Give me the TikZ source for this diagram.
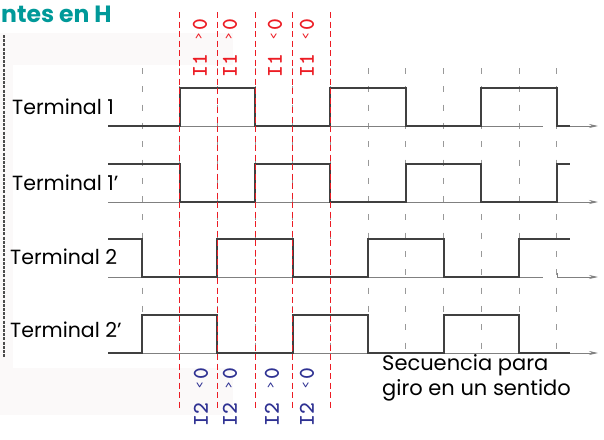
\documentclass[tikz,border=0pt]{standalone}
\usepackage{fontspec}
\setmainfont{Poppins}
\newfontfamily\labelfont{lmmonolt10-bold.otf}
\usetikzlibrary{arrows.meta}
\usetikzlibrary{positioning}

\definecolor{titleteal}{RGB}{0,153,153}
\definecolor{currentred}{RGB}{236,28,36}
\definecolor{currentblue}{RGB}{46,49,146}
\definecolor{scanpaper}{RGB}{251,249,249}

% small comparison sign kept in the middle of a mono cell
\newcommand\relsym[1]{\makebox[0.525em]{\raisebox{0.2em}{\fontsize{12}{12}\selectfont #1}}}

\tikzset{
  % square wave of one terminal
  signal/.style = {
    draw = black!75,
    line width = 1.6pt,
    line join = miter
  },
  % thin time axis under each wave
  time axis/.style = {
    draw = black!50,
    line width = 0.8pt
  },
  time arrow/.style = {
    time axis,
    -{Stealth[length=9pt,width=4pt]}
  },
  % grey dashes every half period
  tick line/.style = {
    draw = black!40,
    line width = 0.9pt,
    dash pattern = on 6pt off 12.3pt
  },
  % red dashed instants where the currents switch
  change line/.style = {
    draw = currentred,
    line width = 1.1pt,
    dash pattern = on 6pt off 3.5pt
  }
}
\tikzset {
  terminal label/.style = {
    anchor = west,
    inner sep = 0,
    font = \fontsize{20.5}{20.5}\selectfont
  },
  % rotated current conditions
  current label/.style = {
    rotate = 90,
    inner sep = 0,
    font = \labelfont\fontsize{22.5}{22.5}\selectfont
  }
}

\begin{document}
\begin{tikzpicture}[x = 1pt, y = -1pt]
  \useasboundingbox (0,0) rectangle (604,439);
  \fill[scanpaper] (0,33) rectangle (233,415);
  \fill[white] (13,65) rectangle (604,368);

  \node[anchor = base west, text = titleteal, inner sep = 0,
    font = \bfseries\fontsize{23.5}{23.5}\selectfont] (title) at (1,22) {ntes en H};
  \draw[black!70, line width = 2.2pt, dash pattern = on 3pt off 1.2pt] (4,35) -- (4,358);

  % half period grid
  \foreach \k in {0,...,11}
    \draw[tick line] (142+37.7*\k,68) -- (142+37.7*\k,360);

  % time axes
  \draw[time axis] (108,126) -- (543,126);
  \draw[time arrow] (557,126) -- (598,126);
  \draw[time arrow] (108,202) -- (598,202);
  \draw[time axis] (108,277) -- (543,277);
  \draw[time arrow] (557,273) -- (557,277) -- (598,277);
  \draw[time arrow] (108,353) -- (598,353);

  % terminal 1
  \draw[signal] (108,126) -- (180,126) -- (180,88) -- (255,88) -- (255,126)
    -- (330,126) -- (330,88) -- (406,88) -- (406,126) -- (481,126)
    -- (481,88) -- (557,88) -- (557,126) -- (570,126);
  % terminal 1'
  \draw[signal] (108,164) -- (180,164) -- (180,202) -- (255,202) -- (255,164)
    -- (330,164) -- (330,202) -- (406,202) -- (406,164) -- (481,164)
    -- (481,202) -- (557,202) -- (557,164) -- (570,164);
  % terminal 2
  \draw[signal] (108,239) -- (142,239) -- (142,277) -- (217,277) -- (217,239)
    -- (293,239) -- (293,277) -- (368,277) -- (368,239) -- (444,239)
    -- (444,277) -- (519,277) -- (519,239) -- (570,239);
  % terminal 2'
  \draw[signal] (108,353) -- (142,353) -- (142,315) -- (217,315) -- (217,353)
    -- (293,353) -- (293,315) -- (368,315) -- (368,353) -- (444,353)
    -- (444,315) -- (519,315) -- (519,353) -- (570,353);

  \foreach \k in {1,...,5}
    \draw[change line] (142+37.7*\k,12) -- (142+37.7*\k,410);

  \node[terminal label] (t1) at (12,107) {Terminal 1};
  \node[terminal label] (t1p) at (12,183) {Terminal 1’};
  \node[terminal label] (t2) at (10,257) {Terminal 2};
  \node[terminal label] (t2p) at (10,330) {Terminal 2’};

  \foreach \x/\txt [count=\i] in {200/I1 \relsym{>}0, 230/I1 \relsym{>}0,
      275/I1 \relsym{<}0, 307/I1 \relsym{<}0}
    \node[current label, text = currentred] (i1-\i) at (\x,48) {\txt};
  \foreach \x/\txt [count=\i] in {201/I2 \relsym{<}0, 230/I2 \relsym{>}0,
      272/I2 \relsym{>}0, 307/I2 \relsym{<}0}
    \node[current label, text = currentblue] (i2-\i) at (\x,397) {\txt};

  \node[anchor = base west, align = left, inner sep = 0,
    font = \fontsize{21}{25}\selectfont] (seq) at (382,395)
    {Secuencia para\\giro en un sentido};
\end{tikzpicture}
\end{document}
